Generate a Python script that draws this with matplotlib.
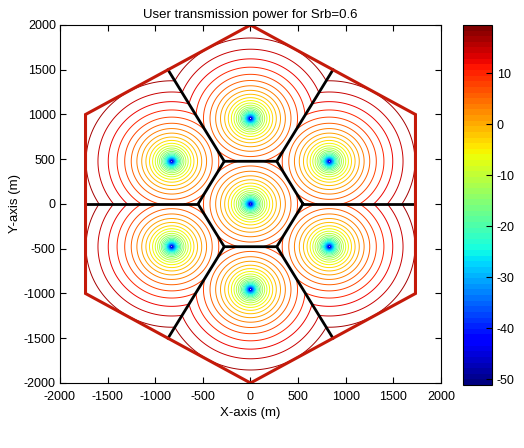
import numpy as np
import matplotlib
matplotlib.use("Agg")
import matplotlib.pyplot as plt
from matplotlib.colors import Normalize
from matplotlib.cm import ScalarMappable

plt.rcParams['font.family'] = ['Liberation Sans', 'DejaVu Sans']
plt.rcParams['axes.unicode_minus'] = False

# ---- data ----
title = "User transmission power for Srb=0.6"
bs_x = [0, 0, 827, 827, 0, -827, -827]          # base station x (m)
bs_y = [0, 955, 477, -477, -955, -477, 477]     # base station y (m)
cell_radius = 551          # hexagon circumradius of a cell (m)
area_radius = 2000         # circumradius of the whole service area (m)
path_loss_exp = 3.5        # slope of power vs log-distance
p_max = 19.5               # power (dB) at the farthest point of the area
d_far = 1045               # farthest distance from serving BS (m)
d_min = 10                 # closest grid distance to a BS (m)
n_levels = 30
xticks = [-2000, -1500, -1000, -500, 0, 500, 1000, 1500, 2000]
yticks = [-2000, -1500, -1000, -500, 0, 500, 1000, 1500, 2000]
cbar_ticks = [-50, -40, -30, -20, -10, 0, 10]

# ---- field ----
g = np.linspace(-2000, 2000, 1001)
X, Y = np.meshgrid(g, g)
D = np.full(X.shape, np.inf)
for bx, by in zip(bs_x, bs_y):
    D = np.minimum(D, np.hypot(X - bx, Y - by))
D = np.maximum(D, d_min)
P = p_max + 10 * path_loss_exp * np.log10(D / d_far)
apo = area_radius * np.sqrt(3) / 2
outside = (np.abs(X) > apo + 1e-6) | (np.abs(Y) + np.abs(X) / np.sqrt(3) > area_radius + 1e-6)
P = np.ma.masked_where(outside, P)

vmin, vmax = float(P.min()), float(P.max())
norm = Normalize(vmin=vmin, vmax=vmax)
levels = np.linspace(vmin, vmax, n_levels + 2)[1:-1]

fig = plt.figure(figsize=(5.24, 4.48), dpi=100)
ax = fig.add_axes([0.1145, 0.1451, 0.7271, 0.7991])
ax.contour(X, Y, P, levels=levels, cmap='jet', norm=norm, linewidths=0.7)

# cell boundaries (black)
ang = np.deg2rad(np.arange(0, 361, 60))
ax.plot(cell_radius * np.cos(ang), cell_radius * np.sin(ang), color='black', lw=2)
for a in ang[:-1]:
    ax.plot([cell_radius * np.cos(a), apo * np.cos(a)],
            [cell_radius * np.sin(a), apo * np.sin(a)], color='black', lw=2)

# outer area boundary
ang2 = np.deg2rad(np.arange(90, 451, 60))
ax.plot(area_radius * np.cos(ang2), area_radius * np.sin(ang2), color='#c41a0a', lw=2.2,
        solid_joinstyle='miter')

ax.set_xlim(-2000, 2000)
ax.set_ylim(-2000, 2000)
ax.set_xticks(xticks)
ax.set_yticks(yticks)
ax.tick_params(direction='in', top=True, right=True, length=4, labelsize=9)
ax.tick_params(axis='x', pad=6)
ax.tick_params(axis='y', pad=3)
ax.set_title(title, fontsize=9.5, pad=5)
ax.set_xlabel("X-axis (m)", fontsize=9.5, labelpad=3)
ax.set_ylabel("Y-axis (m)", fontsize=9.5, labelpad=2)
for s in ax.spines.values():
    s.set_linewidth(0.8)

cax = fig.add_axes([0.8836, 0.1406, 0.0553, 0.8036])
sm = ScalarMappable(norm=norm, cmap=plt.get_cmap('jet', 64))
cb = fig.colorbar(sm, cax=cax, ticks=cbar_ticks)
cb.ax.tick_params(direction='in', length=4, labelsize=9)
cb.outline.set_linewidth(0.8)

fig.savefig("out.png", dpi=100)
